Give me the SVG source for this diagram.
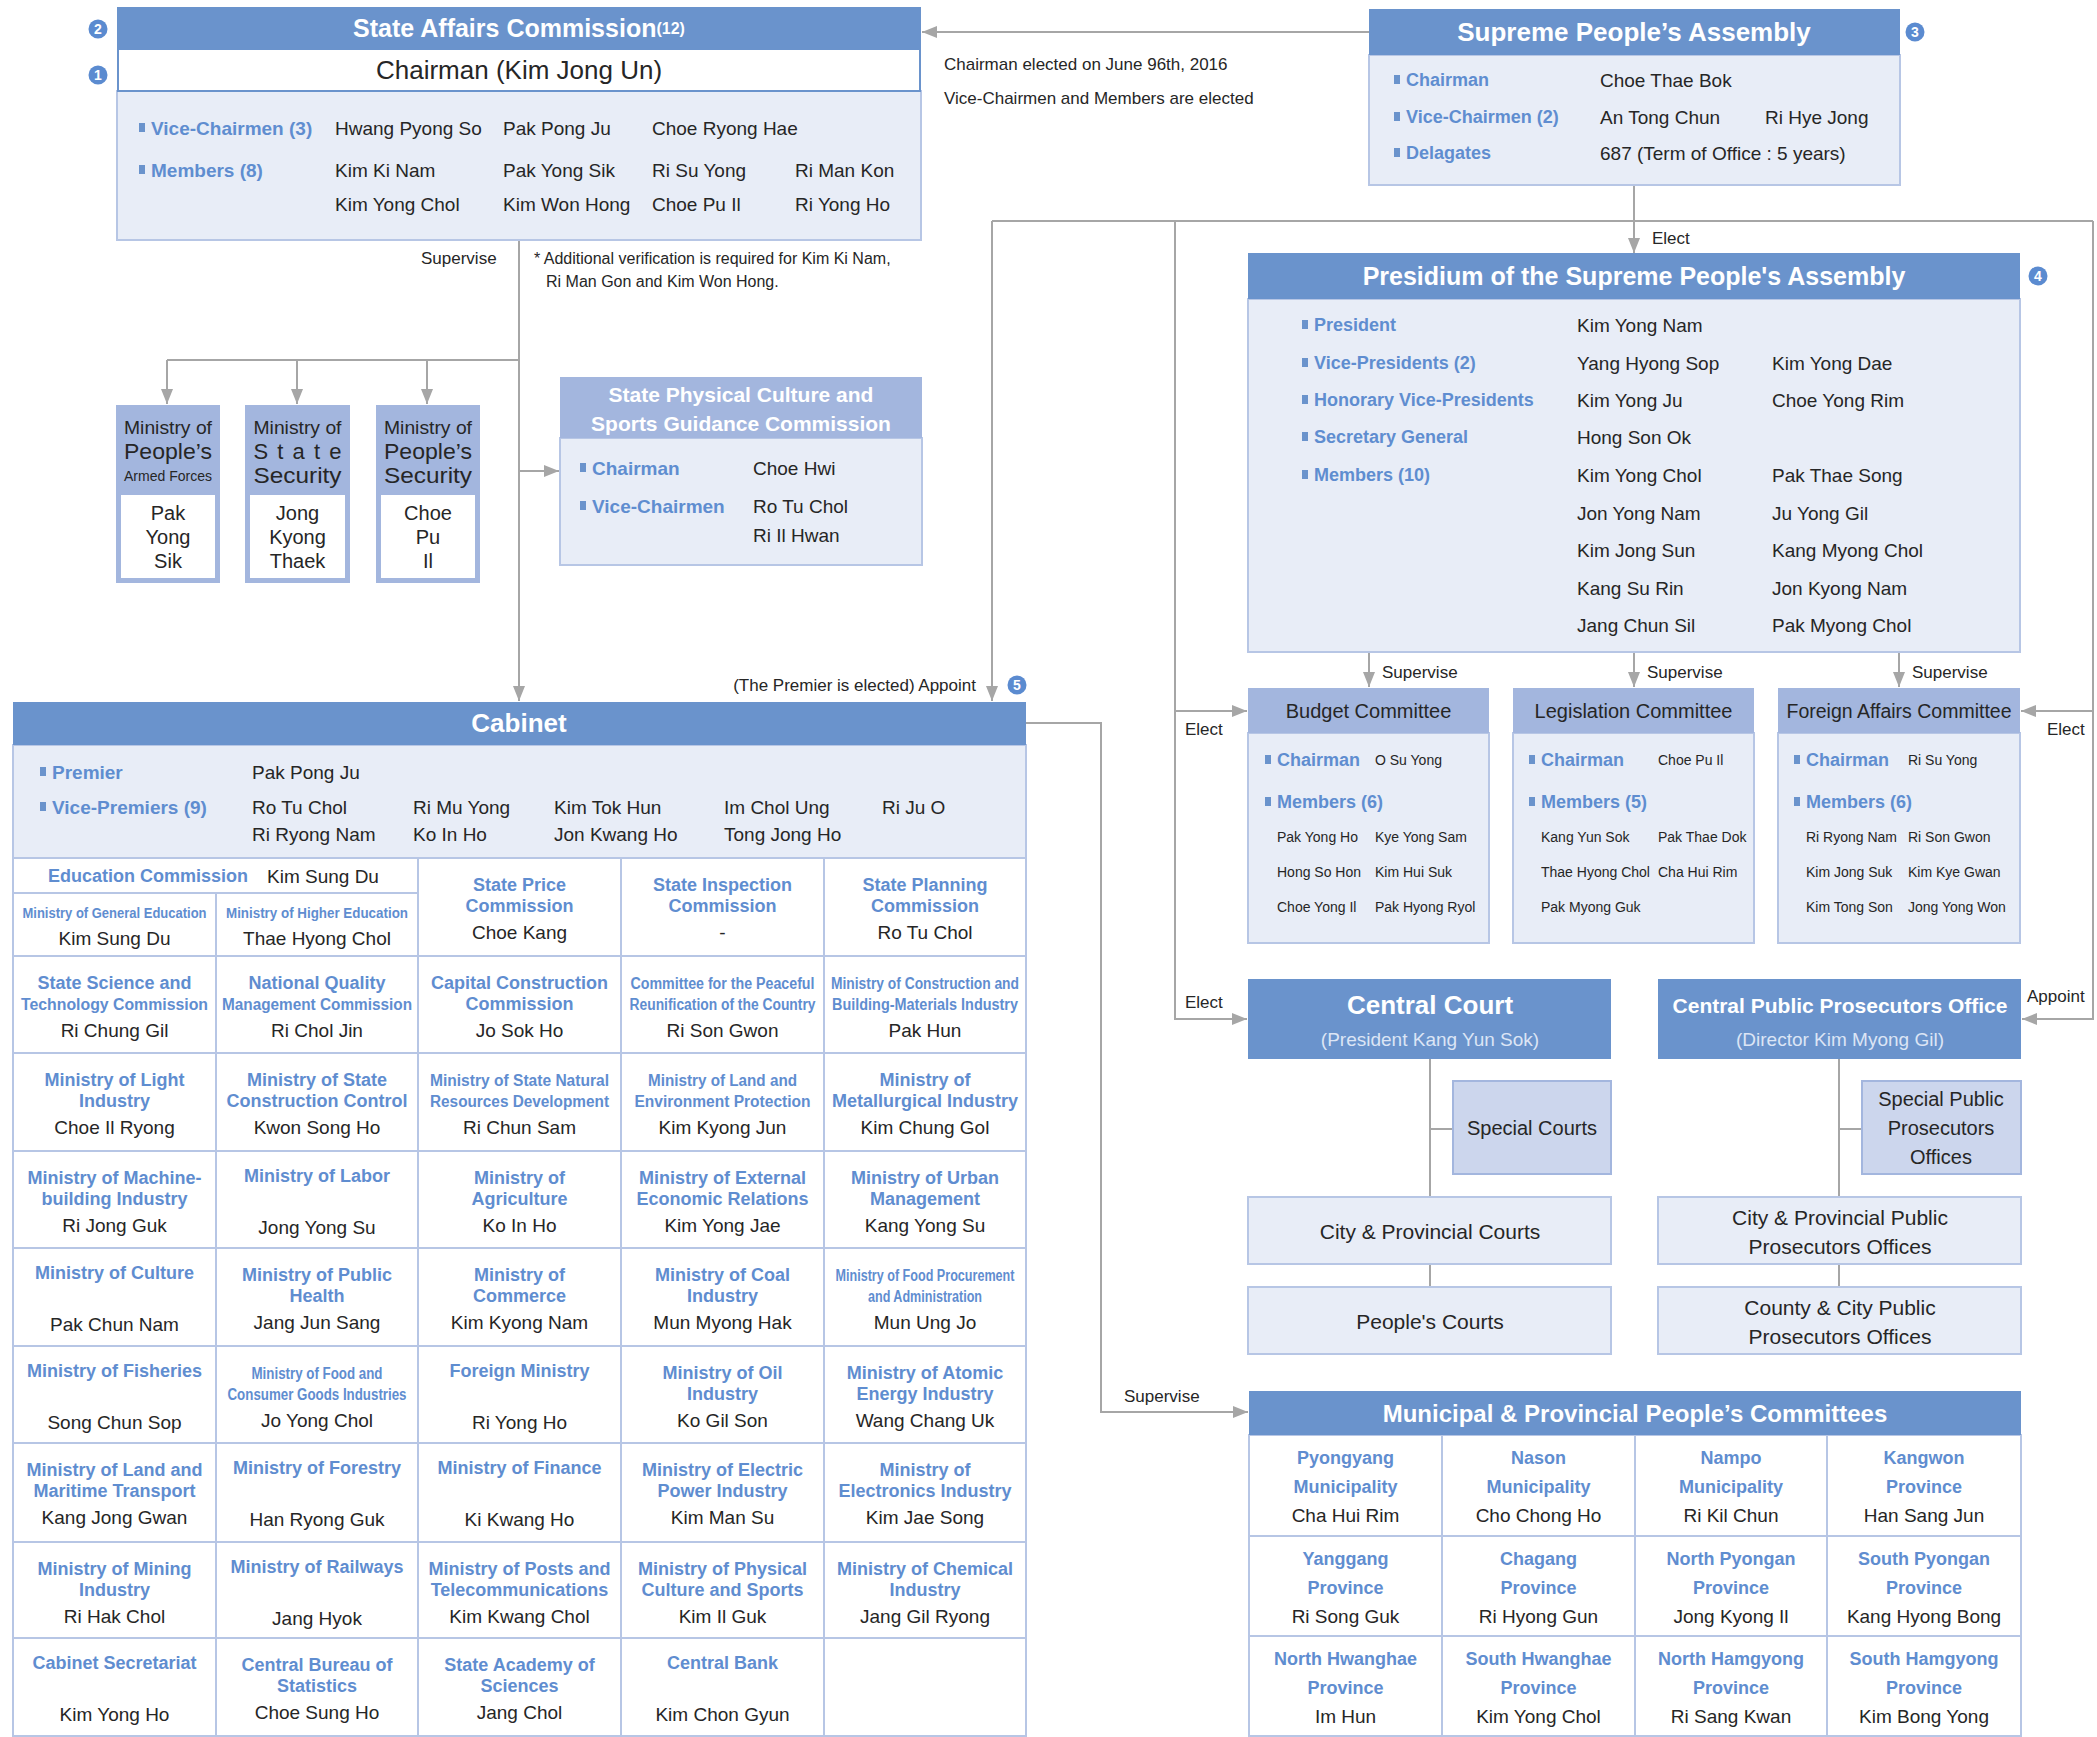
<svg xmlns="http://www.w3.org/2000/svg" width="2097" height="1737" viewBox="0 0 2097 1737">
<defs>
<style>
text{font-family:'Liberation Sans',Arial,sans-serif;dominant-baseline:central;fill:#262626;font-size:19px}
.w{fill:#fff;font-weight:bold}
.b{fill:#5f8dd0;font-weight:bold}
.m{text-anchor:middle}
.e{text-anchor:end}
.hd{fill:#6a93cc}
.bd{fill:#e8edf7;stroke:#b7c6e5;stroke-width:2}
.lh{fill:#a3b6de}
.sp{fill:#ccd6ed;stroke:#a3b6de;stroke-width:2}
.sq{fill:#6a93cc}
.cell{fill:#fff;stroke:#b7c6e5;stroke-width:2}
.gl{fill:none;stroke:#b7c6e5;stroke-width:2}
.cn{fill:none;stroke:#a6a6a6;stroke-width:2}
.ar{marker-end:url(#ah)}
.badge{fill:#5b8bd0}
.bn{fill:#fff;font-weight:bold;font-size:14px;text-anchor:middle}
.lbl{font-size:17px}
.f14{font-size:14px}
.f18{font-size:18px}
.f20{font-size:20px}
.f21{font-size:21px}
.t18{font-size:18px;fill:#5f8dd0;font-weight:bold;text-anchor:middle}
.t16{font-size:16px;fill:#5f8dd0;font-weight:bold;text-anchor:middle}
.t14{font-size:14px;fill:#5f8dd0;font-weight:bold;text-anchor:middle}
.n19{font-size:19px;text-anchor:middle}
</style>
<marker id="ah" markerUnits="userSpaceOnUse" markerWidth="15" markerHeight="12" viewBox="0 0 15 12" refX="15" refY="6" orient="auto"><path d="M0,0L15,6L0,12z" fill="#a6a6a6"/></marker>
</defs>
<rect width="2097" height="1737" fill="#fff"/>

<g id="connectors">
<path class="cn ar" d="M1369,32H922"/>
<path class="cn ar" d="M1634,185V253"/>
<path class="cn" d="M992,221H2093"/>
<path class="cn ar" d="M992,221V701"/>
<path class="cn ar" d="M1175,221V1019H1247"/>
<path class="cn ar" d="M1175,711H1247"/>
<path class="cn ar" d="M2093,221V1019H2022"/>
<path class="cn ar" d="M2093,711H2021"/>
<path class="cn ar" d="M519,240V701"/>
<path class="cn" d="M167,360H519"/>
<path class="cn ar" d="M167,360V404"/>
<path class="cn ar" d="M297,360V404"/>
<path class="cn ar" d="M427,360V404"/>
<path class="cn ar" d="M519,471H559"/>
<path class="cn ar" d="M1369,652V687"/>
<path class="cn ar" d="M1634,652V687"/>
<path class="cn ar" d="M1899,652V687"/>
<path class="cn ar" d="M1026,723H1101V1412H1248"/>
<path class="cn" d="M1430,1059V1197M1430,1129H1453M1430,1264V1287"/>
<path class="cn" d="M1839,1059V1197M1839,1129H1862M1839,1264V1287"/>
<text class="lbl" x="421" y="258">Supervise</text>
<text class="lbl" x="944" y="64">Chairman elected on June 96th, 2016</text>
<text class="lbl" x="944" y="98">Vice-Chairmen and Members are elected</text>
<text class="lbl" x="1652" y="238">Elect</text>
<text class="lbl e" x="976" y="685">(The Premier is elected) Appoint</text>
<text class="lbl" x="1382" y="672">Supervise</text>
<text class="lbl" x="1647" y="672">Supervise</text>
<text class="lbl" x="1912" y="672">Supervise</text>
<text class="lbl" x="1185" y="729">Elect</text>
<text class="lbl" x="2047" y="729">Elect</text>
<text class="lbl" x="1185" y="1002">Elect</text>
<text class="lbl" x="2027" y="996">Appoint</text>
<text class="lbl" x="1124" y="1396">Supervise</text>
</g>

<g id="note">
<text style="font-size:16px" x="534" y="258">* Additional verification is required for Kim Ki Nam,</text>
<text style="font-size:16px" x="546" y="281">Ri Man Gon and Kim Won Hong.</text>
</g>

<g id="badges">
<circle class="badge" cx="98" cy="29" r="9.5"/><text class="bn" x="98" y="29">2</text>
<circle class="badge" cx="98" cy="75" r="9.5"/><text class="bn" x="98" y="75">1</text>
<circle class="badge" cx="1915" cy="32" r="9.5"/><text class="bn" x="1915" y="32">3</text>
<circle class="badge" cx="2038" cy="276" r="9.5"/><text class="bn" x="2038" y="276">4</text>
<circle class="badge" cx="1017" cy="685" r="9.5"/><text class="bn" x="1017" y="685">5</text>
</g>

<g id="state-affairs-commission">
<rect class="bd" x="117" y="91" width="804" height="149"/>
<rect class="hd" x="117" y="7" width="804" height="42"/>
<text class="w m" x="519" y="28" style="font-size:25px">State Affairs Commission<tspan style="font-size:16px">(12)</tspan></text>
<rect x="118" y="49" width="802" height="42" fill="#fff" stroke="#6a93cc" stroke-width="2"/>
<text class="m" x="519" y="70" style="font-size:26px">Chairman (Kim Jong Un)</text>
<rect class="sq" x="139" y="123" width="6" height="9"/>
<text class="b" x="151" y="128">Vice-Chairmen (3)</text>
<text x="335" y="128">Hwang Pyong So</text>
<text x="503" y="128">Pak Pong Ju</text>
<text x="652" y="128">Choe Ryong Hae</text>
<rect class="sq" x="139" y="165" width="6" height="9"/>
<text class="b" x="151" y="170">Members (8)</text>
<text x="335" y="170">Kim Ki Nam</text>
<text x="503" y="170">Pak Yong Sik</text>
<text x="652" y="170">Ri Su Yong</text>
<text x="795" y="170">Ri Man Kon</text>
<text x="335" y="204">Kim Yong Chol</text>
<text x="503" y="204">Kim Won Hong</text>
<text x="652" y="204">Choe Pu Il</text>
<text x="795" y="204">Ri Yong Ho</text>
</g>

<g id="supreme-peoples-assembly">
<rect class="bd" x="1369" y="55" width="531" height="130"/>
<rect class="hd" x="1369" y="9" width="531" height="46"/>
<text class="w m" x="1634" y="32" style="font-size:26px">Supreme People’s Assembly</text>
<rect class="sq" x="1394" y="75" width="6" height="9"/>
<text class="b f18" x="1406" y="80">Chairman</text>
<text x="1600" y="80">Choe Thae Bok</text>
<rect class="sq" x="1394" y="112" width="6" height="9"/>
<text class="b f18" x="1406" y="117">Vice-Chairmen (2)</text>
<text x="1600" y="117">An Tong Chun</text>
<text x="1765" y="117">Ri Hye Jong</text>
<rect class="sq" x="1394" y="148" width="6" height="9"/>
<text class="b f18" x="1406" y="153">Delagates</text>
<text x="1600" y="153">687 (Term of Office : 5 years)</text>
</g>

<g id="presidium">
<rect class="bd" x="1248" y="299" width="772" height="353"/>
<rect class="hd" x="1248" y="253" width="772" height="46"/>
<text class="w m" x="1634" y="276" style="font-size:25px">Presidium of the Supreme People's Assembly</text>
<rect class="sq" x="1302" y="320" width="6" height="9"/>
<text class="b f18" x="1314" y="325">President</text>
<text x="1577" y="325">Kim Yong Nam</text>
<rect class="sq" x="1302" y="358" width="6" height="9"/>
<text class="b f18" x="1314" y="363">Vice-Presidents (2)</text>
<text x="1577" y="363">Yang Hyong Sop</text>
<text x="1772" y="363">Kim Yong Dae</text>
<rect class="sq" x="1302" y="395" width="6" height="9"/>
<text class="b f18" x="1314" y="400">Honorary Vice-Presidents</text>
<text x="1577" y="400">Kim Yong Ju</text>
<text x="1772" y="400">Choe Yong Rim</text>
<rect class="sq" x="1302" y="432" width="6" height="9"/>
<text class="b f18" x="1314" y="437">Secretary General</text>
<text x="1577" y="437">Hong Son Ok</text>
<rect class="sq" x="1302" y="470" width="6" height="9"/>
<text class="b f18" x="1314" y="475">Members (10)</text>
<text x="1577" y="475">Kim Yong Chol</text>
<text x="1772" y="475">Pak Thae Song</text>
<text x="1577" y="513">Jon Yong Nam</text>
<text x="1772" y="513">Ju Yong Gil</text>
<text x="1577" y="550">Kim Jong Sun</text>
<text x="1772" y="550">Kang Myong Chol</text>
<text x="1577" y="588">Kang Su Rin</text>
<text x="1772" y="588">Jon Kyong Nam</text>
<text x="1577" y="625">Jang Chun Sil</text>
<text x="1772" y="625">Pak Myong Chol</text>
</g>

<g id="budget-committee">
<rect class="bd" x="1248" y="733" width="241" height="210"/>
<rect class="lh" x="1248" y="688" width="241" height="45"/>
<text class="m f20" x="1368.5" y="711">Budget Committee</text>
<rect class="sq" x="1265" y="755" width="6" height="9"/>
<text class="b f18" x="1277" y="760">Chairman</text>
<text class="f14" x="1375" y="760">O Su Yong</text>
<rect class="sq" x="1265" y="797" width="6" height="9"/>
<text class="b f18" x="1277" y="802">Members (6)</text>
<text class="f14" x="1277" y="837">Pak Yong Ho</text><text class="f14" x="1375" y="837">Kye Yong Sam</text>
<text class="f14" x="1277" y="872">Hong So Hon</text><text class="f14" x="1375" y="872">Kim Hui Suk</text>
<text class="f14" x="1277" y="907">Choe Yong Il</text><text class="f14" x="1375" y="907">Pak Hyong Ryol</text>
</g>

<g id="legislation-committee">
<rect class="bd" x="1513" y="733" width="241" height="210"/>
<rect class="lh" x="1513" y="688" width="241" height="45"/>
<text class="m f20" x="1633.5" y="711">Legislation Committee</text>
<rect class="sq" x="1529" y="755" width="6" height="9"/>
<text class="b f18" x="1541" y="760">Chairman</text>
<text class="f14" x="1658" y="760">Choe Pu Il</text>
<rect class="sq" x="1529" y="797" width="6" height="9"/>
<text class="b f18" x="1541" y="802">Members (5)</text>
<text class="f14" x="1541" y="837">Kang Yun Sok</text><text class="f14" x="1658" y="837">Pak Thae Dok</text>
<text class="f14" x="1541" y="872">Thae Hyong Chol</text><text class="f14" x="1658" y="872">Cha Hui Rim</text>
<text class="f14" x="1541" y="907">Pak Myong Guk</text>
</g>

<g id="foreign-affairs-committee">
<rect class="bd" x="1778" y="733" width="242" height="210"/>
<rect class="lh" x="1778" y="688" width="242" height="45"/>
<text class="m" x="1899" y="711" style="font-size:19.5px">Foreign Affairs Committee</text>
<rect class="sq" x="1794" y="755" width="6" height="9"/>
<text class="b f18" x="1806" y="760">Chairman</text>
<text class="f14" x="1908" y="760">Ri Su Yong</text>
<rect class="sq" x="1794" y="797" width="6" height="9"/>
<text class="b f18" x="1806" y="802">Members (6)</text>
<text class="f14" x="1806" y="837">Ri Ryong Nam</text><text class="f14" x="1908" y="837">Ri Son Gwon</text>
<text class="f14" x="1806" y="872">Kim Jong Suk</text><text class="f14" x="1908" y="872">Kim Kye Gwan</text>
<text class="f14" x="1806" y="907">Kim Tong Son</text><text class="f14" x="1908" y="907">Jong Yong Won</text>
</g>

<g id="central-court">
<rect class="hd" x="1248" y="979" width="363" height="80"/>
<text class="w m" x="1430" y="1005" style="font-size:26px">Central Court</text>
<text class="m" x="1430" y="1039" style="fill:#dce5f5">(President Kang Yun Sok)</text>
</g>
<g id="special-courts">
<rect class="sp" x="1453" y="1081" width="158" height="93"/>
<text class="m f20" x="1532" y="1128">Special Courts</text>
</g>
<g id="city-provincial-courts">
<rect class="bd" x="1248" y="1197" width="363" height="67"/>
<text class="m f21" x="1430" y="1231">City &amp; Provincial Courts</text>
</g>
<g id="peoples-courts">
<rect class="bd" x="1248" y="1287" width="363" height="67"/>
<text class="m f21" x="1430" y="1321">People's Courts</text>
</g>

<g id="central-public-prosecutors-office">
<rect class="hd" x="1658" y="979" width="363" height="80"/>
<text class="w m" x="1840" y="1005" style="font-size:21px">Central Public Prosecutors Office</text>
<text class="m" x="1840" y="1039" style="fill:#dce5f5">(Director Kim Myong Gil)</text>
</g>
<g id="special-public-prosecutors-offices">
<rect class="sp" x="1862" y="1081" width="159" height="93"/>
<text class="m f20" x="1941" y="1099">Special Public</text>
<text class="m f20" x="1941" y="1128">Prosecutors</text>
<text class="m f20" x="1941" y="1157">Offices</text>
</g>
<g id="city-provincial-prosecutors">
<rect class="bd" x="1658" y="1197" width="363" height="67"/>
<text class="m f21" x="1840" y="1217">City &amp; Provincial Public</text>
<text class="m f21" x="1840" y="1246">Prosecutors Offices</text>
</g>
<g id="county-city-prosecutors">
<rect class="bd" x="1658" y="1287" width="363" height="67"/>
<text class="m f21" x="1840" y="1307">County &amp; City Public</text>
<text class="m f21" x="1840" y="1336">Prosecutors Offices</text>
</g>

<g id="ministry-peoples-armed-forces">
<rect class="lh" x="116" y="405" width="104" height="178"/>
<rect x="121" y="495" width="94" height="83" fill="#fff"/>
<text class="m" x="168" y="427" textLength="88" lengthAdjust="spacingAndGlyphs">Ministry of</text>
<text class="m" x="168" y="451" style="font-size:22px" textLength="88" lengthAdjust="spacingAndGlyphs">People’s</text>
<text class="m" x="168" y="475" style="font-size:15px" textLength="88" lengthAdjust="spacingAndGlyphs">Armed Forces</text>
<text class="m f20" x="168" y="513">Pak</text>
<text class="m f20" x="168" y="537">Yong</text>
<text class="m f20" x="168" y="561">Sik</text>
</g>
<g id="ministry-state-security">
<rect class="lh" x="245" y="405" width="105" height="178"/>
<rect x="250" y="495" width="95" height="83" fill="#fff"/>
<text class="m" x="297.5" y="427" textLength="88" lengthAdjust="spacingAndGlyphs">Ministry of</text>
<text class="m" x="297.5" y="451" style="font-size:22px" textLength="88" lengthAdjust="spacing">State</text>
<text class="m" x="297.5" y="475" style="font-size:22px" textLength="88" lengthAdjust="spacingAndGlyphs">Security</text>
<text class="m f20" x="297.5" y="513">Jong</text>
<text class="m f20" x="297.5" y="537">Kyong</text>
<text class="m f20" x="297.5" y="561">Thaek</text>
</g>
<g id="ministry-peoples-security">
<rect class="lh" x="376" y="405" width="104" height="178"/>
<rect x="381" y="495" width="94" height="83" fill="#fff"/>
<text class="m" x="428" y="427" textLength="88" lengthAdjust="spacingAndGlyphs">Ministry of</text>
<text class="m" x="428" y="451" style="font-size:22px" textLength="88" lengthAdjust="spacingAndGlyphs">People’s</text>
<text class="m" x="428" y="475" style="font-size:22px" textLength="88" lengthAdjust="spacingAndGlyphs">Security</text>
<text class="m f20" x="428" y="513">Choe</text>
<text class="m f20" x="428" y="537">Pu</text>
<text class="m f20" x="428" y="561">Il</text>
</g>

<g id="state-physical-culture-commission">
<rect class="bd" x="560" y="438" width="362" height="127"/>
<rect class="lh" x="560" y="377" width="362" height="61"/>
<text class="w m" x="741" y="394" style="font-size:21px">State Physical Culture and</text>
<text class="w m" x="741" y="423" style="font-size:21px">Sports Guidance Commission</text>
<rect class="sq" x="580" y="463" width="6" height="9"/>
<text class="b" x="592" y="468">Chairman</text>
<text x="753" y="468">Choe Hwi</text>
<rect class="sq" x="580" y="501" width="6" height="9"/>
<text class="b" x="592" y="506">Vice-Chairmen</text>
<text x="753" y="506">Ro Tu Chol</text>
<text x="753" y="535">Ri Il Hwan</text>
</g>

<g id="cabinet">
<rect class="bd" x="13" y="745" width="1013" height="113"/>
<rect class="hd" x="13" y="702" width="1013" height="43"/>
<text class="w m" x="519" y="723" style="font-size:26px">Cabinet</text>
<rect class="sq" x="40" y="767" width="6" height="9"/>
<text class="b" x="52" y="772">Premier</text>
<text x="252" y="772">Pak Pong Ju</text>
<rect class="sq" x="40" y="802" width="6" height="9"/>
<text class="b" x="52" y="807">Vice-Premiers (9)</text>
<text x="252" y="807">Ro Tu Chol</text><text x="413" y="807">Ri Mu Yong</text><text x="554" y="807">Kim Tok Hun</text><text x="724" y="807">Im Chol Ung</text><text x="882" y="807">Ri Ju O</text>
<text x="252" y="834">Ri Ryong Nam</text><text x="413" y="834">Ko In Ho</text><text x="554" y="834">Jon Kwang Ho</text><text x="724" y="834">Tong Jong Ho</text>
<g id="cabinet-grid">
<rect class="cell" x="13" y="858" width="1013" height="878"/>
<path class="gl" d="M13,893H418M13,956H1026M13,1053H1026M13,1151H1026M13,1248H1026M13,1346H1026M13,1443H1026M13,1542H1026M13,1638H1026M216,893V1736M418,858V1736M621,858V1736M824,858V1736"/>
</g>
<g id="cabinet-row1">
<text class="b f18" x="48" y="876">Education Commission</text><text x="267" y="876">Kim Sung Du</text>
<text class="t14" x="114.5" y="913" textLength="184" lengthAdjust="spacingAndGlyphs">Ministry of General Education</text><text class="n19" x="114.5" y="938">Kim Sung Du</text>
<text class="t14" x="317" y="913" textLength="182" lengthAdjust="spacingAndGlyphs">Ministry of Higher Education</text><text class="n19" x="317" y="938">Thae Hyong Chol</text>
<text class="t18" x="519.5" y="885">State Price</text><text class="t18" x="519.5" y="906">Commission</text><text class="n19" x="519.5" y="932">Choe Kang</text>
<text class="t18" x="722.5" y="885">State Inspection</text><text class="t18" x="722.5" y="906">Commission</text><text class="n19" x="722.5" y="932">-</text>
<text class="t18" x="925" y="885">State Planning</text><text class="t18" x="925" y="906">Commission</text><text class="n19" x="925" y="932">Ro Tu Chol</text>
</g>
<g id="cabinet-row2">
<text class="t18" x="114.5" y="983">State Science and</text><text class="t16" x="114.5" y="1004" textLength="187" lengthAdjust="spacingAndGlyphs">Technology Commission</text><text class="n19" x="114.5" y="1030">Ri Chung Gil</text>
<text class="t18" x="317" y="983">National Quality</text><text class="t16" x="317" y="1004" textLength="190" lengthAdjust="spacingAndGlyphs">Management Commission</text><text class="n19" x="317" y="1030">Ri Chol Jin</text>
<text class="t18" x="519.5" y="983">Capital Construction</text><text class="t18" x="519.5" y="1004">Commission</text><text class="n19" x="519.5" y="1030">Jo Sok Ho</text>
<text class="t16" x="722.5" y="983" textLength="184" lengthAdjust="spacingAndGlyphs">Committee for the Peaceful</text><text class="t16" x="722.5" y="1004" textLength="186" lengthAdjust="spacingAndGlyphs">Reunification of the Country</text><text class="n19" x="722.5" y="1030">Ri Son Gwon</text>
<text class="t16" x="925" y="983" textLength="188" lengthAdjust="spacingAndGlyphs">Ministry of Construction and</text><text class="t16" x="925" y="1004" textLength="186" lengthAdjust="spacingAndGlyphs">Building-Materials Industry</text><text class="n19" x="925" y="1030">Pak Hun</text>
</g>
<g id="cabinet-row3">
<text class="t18" x="114.5" y="1080">Ministry of Light</text><text class="t18" x="114.5" y="1101">Industry</text><text class="n19" x="114.5" y="1127">Choe Il Ryong</text>
<text class="t18" x="317" y="1080">Ministry of State</text><text class="t18" x="317" y="1101">Construction Control</text><text class="n19" x="317" y="1127">Kwon Song Ho</text>
<text class="t16" x="519.5" y="1080" textLength="179" lengthAdjust="spacingAndGlyphs">Ministry of State Natural</text><text class="t16" x="519.5" y="1101" textLength="179" lengthAdjust="spacingAndGlyphs">Resources Development</text><text class="n19" x="519.5" y="1127">Ri Chun Sam</text>
<text class="t16" x="722.5" y="1080" textLength="149" lengthAdjust="spacingAndGlyphs">Ministry of Land and</text><text class="t16" x="722.5" y="1101" textLength="176" lengthAdjust="spacingAndGlyphs">Environment Protection</text><text class="n19" x="722.5" y="1127">Kim Kyong Jun</text>
<text class="t18" x="925" y="1080">Ministry of</text><text class="t18" x="925" y="1101">Metallurgical Industry</text><text class="n19" x="925" y="1127">Kim Chung Gol</text>
</g>
<g id="cabinet-row4">
<text class="t18" x="114.5" y="1178">Ministry of Machine-</text><text class="t18" x="114.5" y="1199">building Industry</text><text class="n19" x="114.5" y="1225">Ri Jong Guk</text>
<text class="t18" x="317" y="1176">Ministry of Labor</text><text class="n19" x="317" y="1227">Jong Yong Su</text>
<text class="t18" x="519.5" y="1178">Ministry of</text><text class="t18" x="519.5" y="1199">Agriculture</text><text class="n19" x="519.5" y="1225">Ko In Ho</text>
<text class="t18" x="722.5" y="1178">Ministry of External</text><text class="t18" x="722.5" y="1199">Economic Relations</text><text class="n19" x="722.5" y="1225">Kim Yong Jae</text>
<text class="t18" x="925" y="1178">Ministry of Urban</text><text class="t18" x="925" y="1199">Management</text><text class="n19" x="925" y="1225">Kang Yong Su</text>
</g>
<g id="cabinet-row5">
<text class="t18" x="114.5" y="1273">Ministry of Culture</text><text class="n19" x="114.5" y="1324">Pak Chun Nam</text>
<text class="t18" x="317" y="1275">Ministry of Public</text><text class="t18" x="317" y="1296">Health</text><text class="n19" x="317" y="1322">Jang Jun Sang</text>
<text class="t18" x="519.5" y="1275">Ministry of</text><text class="t18" x="519.5" y="1296">Commerce</text><text class="n19" x="519.5" y="1322">Kim Kyong Nam</text>
<text class="t18" x="722.5" y="1275">Ministry of Coal</text><text class="t18" x="722.5" y="1296">Industry</text><text class="n19" x="722.5" y="1322">Mun Myong Hak</text>
<text class="t16" x="925" y="1275" textLength="179" lengthAdjust="spacingAndGlyphs">Ministry of Food Procurement</text><text class="t16" x="925" y="1296" textLength="114" lengthAdjust="spacingAndGlyphs">and Administration</text><text class="n19" x="925" y="1322">Mun Ung Jo</text>
</g>
<g id="cabinet-row6">
<text class="t18" x="114.5" y="1371">Ministry of Fisheries</text><text class="n19" x="114.5" y="1422">Song Chun Sop</text>
<text class="t16" x="317" y="1373" textLength="131" lengthAdjust="spacingAndGlyphs">Ministry of Food and</text><text class="t16" x="317" y="1394" textLength="179" lengthAdjust="spacingAndGlyphs">Consumer Goods Industries</text><text class="n19" x="317" y="1420">Jo Yong Chol</text>
<text class="t18" x="519.5" y="1371">Foreign Ministry</text><text class="n19" x="519.5" y="1422">Ri Yong Ho</text>
<text class="t18" x="722.5" y="1373">Ministry of Oil</text><text class="t18" x="722.5" y="1394">Industry</text><text class="n19" x="722.5" y="1420">Ko Gil Son</text>
<text class="t18" x="925" y="1373">Ministry of Atomic</text><text class="t18" x="925" y="1394">Energy Industry</text><text class="n19" x="925" y="1420">Wang Chang Uk</text>
</g>
<g id="cabinet-row7">
<text class="t18" x="114.5" y="1470">Ministry of Land and</text><text class="t18" x="114.5" y="1491">Maritime Transport</text><text class="n19" x="114.5" y="1517">Kang Jong Gwan</text>
<text class="t18" x="317" y="1468">Ministry of Forestry</text><text class="n19" x="317" y="1519">Han Ryong Guk</text>
<text class="t18" x="519.5" y="1468">Ministry of Finance</text><text class="n19" x="519.5" y="1519">Ki Kwang Ho</text>
<text class="t18" x="722.5" y="1470">Ministry of Electric</text><text class="t18" x="722.5" y="1491">Power Industry</text><text class="n19" x="722.5" y="1517">Kim Man Su</text>
<text class="t18" x="925" y="1470">Ministry of</text><text class="t18" x="925" y="1491">Electronics Industry</text><text class="n19" x="925" y="1517">Kim Jae Song</text>
</g>
<g id="cabinet-row8">
<text class="t18" x="114.5" y="1569">Ministry of Mining</text><text class="t18" x="114.5" y="1590">Industry</text><text class="n19" x="114.5" y="1616">Ri Hak Chol</text>
<text class="t18" x="317" y="1567">Ministry of Railways</text><text class="n19" x="317" y="1618">Jang Hyok</text>
<text class="t18" x="519.5" y="1569">Ministry of Posts and</text><text class="t18" x="519.5" y="1590">Telecommunications</text><text class="n19" x="519.5" y="1616">Kim Kwang Chol</text>
<text class="t18" x="722.5" y="1569">Ministry of Physical</text><text class="t18" x="722.5" y="1590">Culture and Sports</text><text class="n19" x="722.5" y="1616">Kim Il Guk</text>
<text class="t18" x="925" y="1569">Ministry of Chemical</text><text class="t18" x="925" y="1590">Industry</text><text class="n19" x="925" y="1616">Jang Gil Ryong</text>
</g>
<g id="cabinet-row9">
<text class="t18" x="114.5" y="1663">Cabinet Secretariat</text><text class="n19" x="114.5" y="1714">Kim Yong Ho</text>
<text class="t18" x="317" y="1665">Central Bureau of</text><text class="t18" x="317" y="1686">Statistics</text><text class="n19" x="317" y="1712">Choe Sung Ho</text>
<text class="t18" x="519.5" y="1665">State Academy of</text><text class="t18" x="519.5" y="1686">Sciences</text><text class="n19" x="519.5" y="1712">Jang Chol</text>
<text class="t18" x="722.5" y="1663">Central Bank</text><text class="n19" x="722.5" y="1714">Kim Chon Gyun</text>
</g>
</g>

<g id="municipal-provincial-committees">
<rect class="cell" x="1249" y="1435" width="772" height="301"/>
<rect class="hd" x="1249" y="1391" width="772" height="44"/>
<text class="w m" x="1635" y="1413" style="font-size:24px">Municipal &amp; Provincial People’s Committees</text>
<path class="gl" d="M1249,1536H2021M1249,1636H2021M1442,1435V1736M1635,1435V1736M1827,1435V1736"/>
<text class="t18" x="1345.5" y="1458">Pyongyang</text><text class="t18" x="1345.5" y="1487">Municipality</text>
<text class="t18" x="1538.5" y="1458">Nason</text><text class="t18" x="1538.5" y="1487">Municipality</text>
<text class="t18" x="1731" y="1458">Nampo</text><text class="t18" x="1731" y="1487">Municipality</text>
<text class="t18" x="1924" y="1458">Kangwon</text><text class="t18" x="1924" y="1487">Province</text>
<text class="t18" x="1345.5" y="1559">Yanggang</text><text class="t18" x="1345.5" y="1588">Province</text>
<text class="t18" x="1538.5" y="1559">Chagang</text><text class="t18" x="1538.5" y="1588">Province</text>
<text class="t18" x="1731" y="1559">North Pyongan</text><text class="t18" x="1731" y="1588">Province</text>
<text class="t18" x="1924" y="1559">South Pyongan</text><text class="t18" x="1924" y="1588">Province</text>
<text class="t18" x="1345.5" y="1659">North Hwanghae</text><text class="t18" x="1345.5" y="1688">Province</text>
<text class="t18" x="1538.5" y="1659">South Hwanghae</text><text class="t18" x="1538.5" y="1688">Province</text>
<text class="t18" x="1731" y="1659">North Hamgyong</text><text class="t18" x="1731" y="1688">Province</text>
<text class="t18" x="1924" y="1659">South Hamgyong</text><text class="t18" x="1924" y="1688">Province</text>
<text class="n19" x="1345.5" y="1515">Cha Hui Rim</text>
<text class="n19" x="1538.5" y="1515">Cho Chong Ho</text>
<text class="n19" x="1731" y="1515">Ri Kil Chun</text>
<text class="n19" x="1924" y="1515">Han Sang Jun</text>
<text class="n19" x="1345.5" y="1616">Ri Song Guk</text>
<text class="n19" x="1538.5" y="1616">Ri Hyong Gun</text>
<text class="n19" x="1731" y="1616">Jong Kyong Il</text>
<text class="n19" x="1924" y="1616">Kang Hyong Bong</text>
<text class="n19" x="1345.5" y="1716">Im Hun</text>
<text class="n19" x="1538.5" y="1716">Kim Yong Chol</text>
<text class="n19" x="1731" y="1716">Ri Sang Kwan</text>
<text class="n19" x="1924" y="1716">Kim Bong Yong</text>
</g>
</svg>
